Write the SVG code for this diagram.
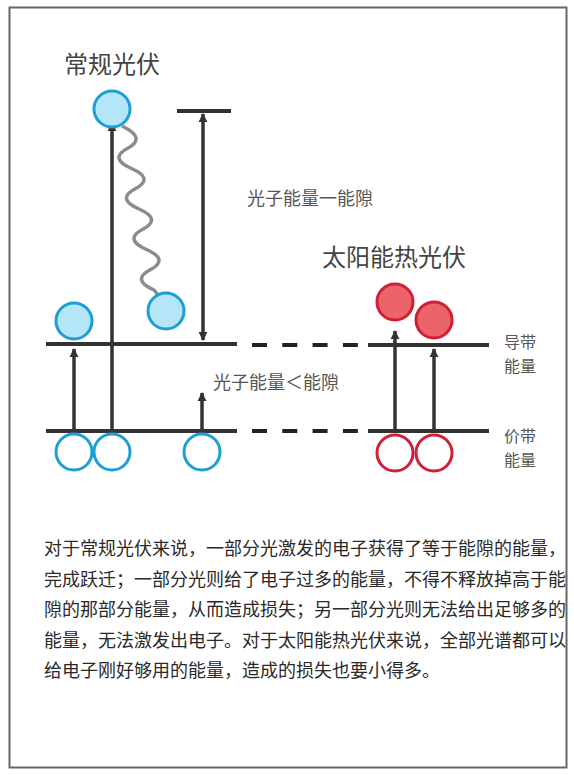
<svg xmlns="http://www.w3.org/2000/svg" width="574" height="775" viewBox="0 0 574 775">
<defs>
<marker id="ah" viewBox="0 0 10 10" refX="9" refY="5" markerWidth="9" markerHeight="11" markerUnits="userSpaceOnUse" orient="auto-start-reverse">
<path d="M0,0 L10,5 L0,10 z" fill="#333"/>
</marker>
<style>
.lvl{stroke:#333;stroke-width:4;fill:none}
.dash{stroke:#222;stroke-width:4;stroke-dasharray:15 15.3;fill:none}
.arr{stroke:#333;stroke-width:3.5;fill:none;marker-end:url(#ah)}
.bf{fill:#b5e6f8;stroke:#1c9fd2;stroke-width:3}
.bo{fill:#fff;stroke:#1c9fd2;stroke-width:3}
.rf{fill:#ea6469;stroke:#d01f37;stroke-width:3}
.ro{fill:#fff;stroke:#d01f37;stroke-width:3}
.t{font-family:"Noto Sans CJK SC","Noto Sans",sans-serif;fill:#444}
.title{font-size:24px}
.lab{font-size:18px;fill:#555}
.side{font-size:16px;fill:#555}
.para{font-size:18px;fill:#2a2a2a}
</style>
</defs>
<rect x="9.5" y="7.5" width="557" height="760" fill="#fff" stroke="#666" stroke-width="2"/>

<g id="levels">
<line class="lvl" x1="46" y1="344" x2="237" y2="344"/>
<line class="lvl" x1="46" y1="431" x2="237" y2="431"/>
<line class="dash" x1="252" y1="345" x2="360" y2="345"/>
<line class="dash" x1="252" y1="431" x2="360" y2="431"/>
<line class="lvl" x1="368" y1="345" x2="489" y2="345"/>
<line class="lvl" x1="368" y1="431" x2="489" y2="431"/>
<line class="lvl" x1="177" y1="111" x2="231" y2="111"/>
</g>

<g id="connectors">
<line class="arr" x1="112" y1="432" x2="112" y2="123"/>
<line class="arr" x1="74" y1="431" x2="74" y2="349"/>
<line class="arr" x1="202" y1="431" x2="202" y2="393"/>
<line class="arr" x1="203" y1="226" x2="203" y2="114"/>
<line class="arr" x1="203" y1="226" x2="203" y2="340"/>
<line class="arr" x1="395" y1="431" x2="395" y2="331"/>
<line class="arr" x1="434" y1="431" x2="434" y2="349"/>
<path id="wave" d="M122,126 Q147,138.1 127.75,148.25 T131.5,168.5 T135.25,188.75 T139,209 T142.75,229.25 T146.5,249.5 T150.25,269.75 T154,290 L158,295" fill="none" stroke="#8c8c8c" stroke-width="3.5" stroke-linejoin="round"/>
</g>

<g id="node-conv-top"><circle class="bf" cx="112" cy="109" r="18"/></g>
<g id="node-conv-relaxed"><circle class="bf" cx="166" cy="311" r="18"/></g>
<g id="node-conv-left"><circle class="bf" cx="74" cy="321" r="18"/></g>
<g id="node-conv-h1"><circle class="bo" cx="74" cy="452" r="18"/></g>
<g id="node-conv-h2"><circle class="bo" cx="112" cy="452" r="18"/></g>
<g id="node-conv-h3"><circle class="bo" cx="202" cy="452" r="18"/></g>
<g id="node-stpv-e1"><circle class="rf" cx="395" cy="302" r="18"/></g>
<g id="node-stpv-e2"><circle class="rf" cx="434" cy="320" r="18"/></g>
<g id="node-stpv-h1"><circle class="ro" cx="395" cy="453" r="18"/></g>
<g id="node-stpv-h2"><circle class="ro" cx="434" cy="453" r="18"/></g>

<g id="labels">
<text class="t title" x="64" y="73">常规光伏</text>
<text class="t title" x="322" y="266">太阳能热光伏</text>
<text class="t lab" x="247" y="205">光子能量一能隙</text>
<text class="t lab" x="213" y="389">光子能量＜能隙</text>
<text class="t side" x="504" y="348">导带</text>
<text class="t side" x="504" y="372">能量</text>
<text class="t side" x="504" y="442">价带</text>
<text class="t side" x="504" y="466">能量</text>
</g>

<g id="paragraph">
<text class="t para" x="44" y="555">对于常规光伏来说，一部分光激发的电子获得了等于能隙的能量，</text>
<text class="t para" x="44" y="585.5">完成跃迁；一部分光则给了电子过多的能量，不得不释放掉高于能</text>
<text class="t para" x="44" y="616">隙的那部分能量，从而造成损失；另一部分光则无法给出足够多的</text>
<text class="t para" x="44" y="646.5">能量，无法激发出电子。对于太阳能热光伏来说，全部光谱都可以</text>
<text class="t para" x="44" y="677">给电子刚好够用的能量，造成的损失也要小得多。</text>
</g>
</svg>
